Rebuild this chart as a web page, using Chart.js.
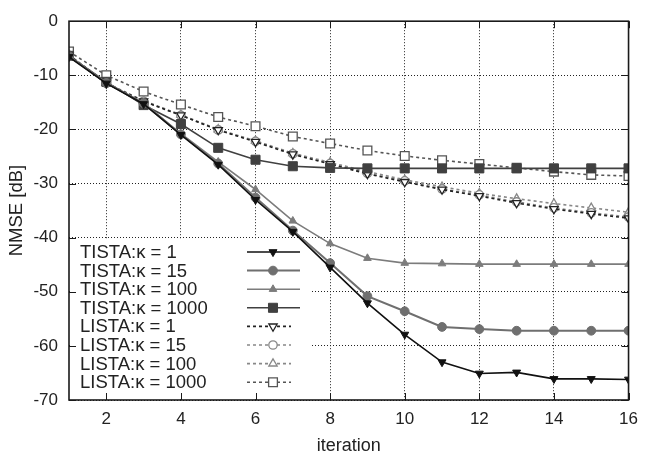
<!DOCTYPE html>
<html>
<head>
<meta charset="utf-8">
<script src="https://cdn.jsdelivr.net/npm/chart.js@4/dist/chart.umd.min.js"></script>
<style>
  html, body { margin: 0; padding: 0; background: #fff; }
  canvas { display: block; }
</style>
</head>
<body>
<canvas id="nmseChart" width="647" height="457"></canvas>
<script>
// iterations and NMSE [dB] per model
const iterations = [1, 2, 3, 4, 5, 6, 7, 8, 9, 10, 11, 12, 13, 14, 15, 16];
const xTicks = [2, 4, 6, 8, 10, 12, 14, 16];
const yTicks = [0, -10, -20, -30, -40, -50, -60, -70];

const tistaK1    = [-6.6, -11.5, -15.3, -21.0, -26.5, -33.0, -38.9, -45.5, -52.1, -57.9, -63.0, -65.1, -64.9, -66.1, -66.1, -66.2];
const tistaK15   = [-6.5, -11.4, -15.2, -20.9, -26.3, -32.6, -38.7, -44.7, -50.8, -53.6, -56.5, -56.9, -57.2, -57.2, -57.2, -57.2];
const tistaK100  = [-6.5, -11.4, -15.1, -20.8, -26.0, -31.1, -36.9, -41.1, -43.8, -44.7, -44.8, -44.9, -44.9, -44.9, -44.9, -44.9];
const tistaK1000 = [-6.4, -11.2, -15.5, -19.0, -23.4, -25.6, -26.8, -27.1, -27.2, -27.2, -27.2, -27.2, -27.2, -27.2, -27.2, -27.2];
const listaK1    = [-6.3, -11.5, -14.8, -17.4, -20.1, -22.3, -24.6, -26.4, -28.2, -29.7, -31.1, -32.3, -33.6, -34.7, -35.6, -36.4];
const listaK15   = [-6.3, -11.5, -14.8, -17.4, -20.1, -22.2, -24.5, -26.3, -28.1, -29.5, -31.0, -32.1, -33.4, -34.5, -35.4, -36.2];
const listaK100  = [-6.2, -11.4, -14.7, -17.3, -20.0, -22.1, -24.4, -26.1, -27.8, -29.3, -30.6, -31.8, -32.8, -33.7, -34.5, -35.3];
const listaK1000 = [-5.6, -10.0, -13.0, -15.4, -17.7, -19.4, -21.3, -22.6, -23.9, -24.9, -25.7, -26.4, -27.1, -27.8, -28.4, -28.6];

const FONT = 'Liberation Sans, Arial, Helvetica, sans-serif';

const pts = arr => arr.map((v, i) => ({ x: iterations[i], y: v }));

const series = (label, values, color, style, radius, opts = {}) => ({
    label: label,
    data: pts(values),
    borderColor: color,
    borderWidth: 1.6,
    backgroundColor: color,
    pointBackgroundColor: color,
    pointBorderColor: color,
    pointBorderWidth: 1,
    pointStyle: style,
    pointRadius: radius,
    pointRotation: 0,
    tension: 0,
    fill: false,
    ...opts
});

const lista = { borderDash: [3, 3], borderWidth: 1.6, pointBackgroundColor: '#fff', pointBorderWidth: 1.3 };

const datasets = [
    series('TISTA:κ = 1', tistaK1, '#111', 'triangle', 4.6, { pointRotation: 180 }),
    series('TISTA:κ = 15', tistaK15, '#6f6f6f', 'circle', 4.4, { borderWidth: 2 }),
    series('TISTA:κ = 100', tistaK100, '#7c7c7c', 'triangle', 4.4),
    series('TISTA:κ = 1000', tistaK1000, '#404040', 'rect', 6.4),
    series('LISTA:κ = 1', listaK1, '#222', 'triangle', 4.8, { ...lista, pointRotation: 180 }),
    series('LISTA:κ = 15', listaK15, '#888', 'circle', 4.2, lista),
    series('LISTA:κ = 100', listaK100, '#888', 'triangle', 4.8, lista),
    series('LISTA:κ = 1000', listaK1000, '#555', 'rect', 6.2, lista)
];

// legend in the lower left: white box under the curves, text first then line sample
const insideLegend = {
    id: 'insideLegend',
    beforeDatasetsDraw(chart) {
        const ctx = chart.ctx;
        const area = chart.chartArea;
        ctx.save();
        ctx.fillStyle = '#fff';
        ctx.fillRect(area.left + 1, 240, 310 - area.left, area.bottom - 241);
        ctx.restore();
    },
    afterDatasetsDraw(chart) {
        const ctx = chart.ctx;
        ctx.save();
        chart.data.datasets.forEach((ds, i) => {
            const y = 252 + i * 18.6;
            ctx.fillStyle = '#222';
            ctx.font = '18.5px ' + FONT;
            ctx.textBaseline = 'middle';
            ctx.textAlign = 'left';
            ctx.fillText(ds.label, 80, y + 1);
            ctx.strokeStyle = ds.borderColor;
            ctx.lineWidth = ds.borderWidth;
            ctx.setLineDash(ds.borderDash || []);
            ctx.beginPath();
            ctx.moveTo(247, y);
            ctx.lineTo(ds.borderDash ? 291 : 300, y);
            ctx.stroke();
            ctx.setLineDash([]);
            ctx.fillStyle = ds.pointBackgroundColor;
            ctx.strokeStyle = ds.pointBorderColor;
            ctx.lineWidth = ds.pointBorderWidth;
            Chart.helpers.drawPoint(ctx, {
                pointStyle: ds.pointStyle,
                radius: ds.pointRadius,
                rotation: ds.pointRotation,
                borderWidth: ds.pointBorderWidth
            }, 273, y);
        });
        ctx.restore();
    }
};

// solid frame with inward tick marks on all four sides
const frame = {
    id: 'frame',
    afterDraw(chart) {
        const ctx = chart.ctx;
        const { left, right, top, bottom } = chart.chartArea;
        const xs = chart.scales.x, ys = chart.scales.y;
        const tl = 7;
        ctx.save();
        ctx.strokeStyle = '#1a1a1a';
        ctx.lineWidth = 1;
        ctx.beginPath();
        xTicks.forEach(v => {
            const px = Math.round(xs.getPixelForValue(v)) + 0.5;
            ctx.moveTo(px, bottom); ctx.lineTo(px, bottom - tl);
            ctx.moveTo(px, top); ctx.lineTo(px, top + tl);
        });
        yTicks.forEach(v => {
            const py = Math.round(ys.getPixelForValue(v)) + 0.5;
            ctx.moveTo(left, py); ctx.lineTo(left + tl, py);
            ctx.moveTo(right, py); ctx.lineTo(right - tl, py);
        });
        ctx.stroke();
        ctx.lineWidth = 1.6;
        ctx.strokeRect(left, top, right - left, bottom - top);
        ctx.restore();
    }
};

new Chart(document.getElementById('nmseChart').getContext('2d'), {
    type: 'line',
    data: { datasets: datasets },
    options: {
        responsive: false,
        animation: false,
        layout: { padding: { top: 14, right: 14, left: 0, bottom: 0 } },
        plugins: { legend: { display: false }, tooltip: { enabled: false } },
        scales: {
            x: {
                type: 'linear',
                min: 1,
                max: 16,
                afterBuildTicks: s => { s.ticks = xTicks.map(v => ({ value: v })); },
                afterFit: s => { s.height = 57; },
                grid: { color: '#222', lineWidth: 1, drawTicks: false },
                border: { display: false, dash: [1, 2] },
                ticks: { color: '#222', padding: 9, maxRotation: 0, font: { family: FONT, size: 17 } },
                title: { display: true, text: 'iteration', color: '#222', padding: { top: 0, bottom: 0 }, font: { family: FONT, size: 18 } }
            },
            y: {
                min: -70,
                max: 0,
                afterBuildTicks: s => { s.ticks = yTicks.map(v => ({ value: v })); },
                afterFit: s => { s.width = 69; },
                grid: { color: '#222', lineWidth: 1, drawTicks: false },
                border: { display: false, dash: [1, 2] },
                ticks: { color: '#222', padding: 11, font: { family: FONT, size: 17 } },
                title: { display: true, text: 'NMSE [dB]', color: '#222', padding: { top: 6, bottom: 0 }, font: { family: FONT, size: 18.5 } }
            }
        }
    },
    plugins: [insideLegend, frame]
});
</script>
</body>
</html>
